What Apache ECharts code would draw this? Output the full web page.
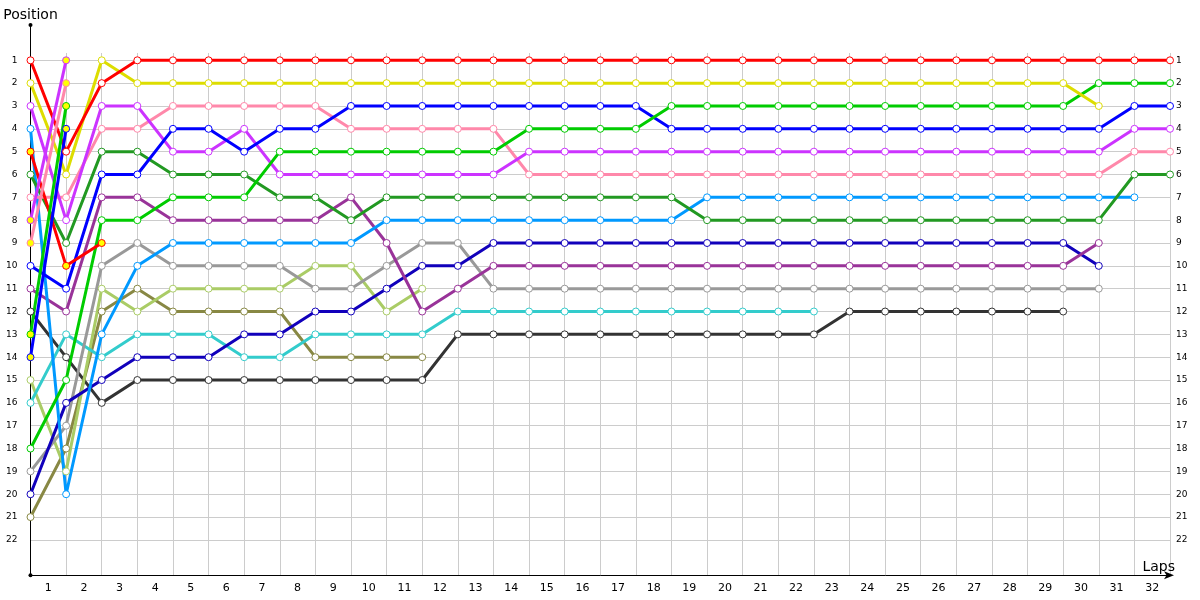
<!DOCTYPE html>
<html>
<head>
<meta charset="utf-8">
<title>Lap chart</title>
<script src="https://cdn.jsdelivr.net/npm/echarts@6/dist/echarts.min.js"></script>
<style>
  html, body { margin: 0; padding: 0; background: #fff; }
  #chart { width: 1200px; height: 600px; }
</style>
</head>
<body>
<div id="chart"></div>
<script>
const lapLabels = ['1', '2', '3', '4', '5', '6', '7', '8', '9', '10', '11', '12', '13', '14', '15', '16',
  '17', '18', '19', '20', '21', '22', '23', '24', '25', '26', '27', '28', '29', '30', '31', '32']
const positions = [1, 2, 3, 4, 5, 6, 7, 8, 9, 10, 11, 12, 13, 14, 15, 16, 17, 18, 19, 20, 21, 22]

// position per lap, index 0 = grid
const red = [1, 5, 2, 1, 1, 1, 1, 1, 1, 1,
  1, 1, 1, 1, 1, 1, 1, 1, 1, 1,
  1, 1, 1, 1, 1, 1, 1, 1, 1, 1,
  1, 1, 1]
const yellow = [2, 6, 1, 2, 2, 2, 2, 2, 2, 2,
  2, 2, 2, 2, 2, 2, 2, 2, 2, 2,
  2, 2, 2, 2, 2, 2, 2, 2, 2, 2,
  3]
const magenta = [3, 8, 3, 3, 5, 5, 4, 6, 6, 6,
  6, 6, 6, 6, 5, 5, 5, 5, 5, 5,
  5, 5, 5, 5, 5, 5, 5, 5, 5, 5,
  5, 4, 4]
const pink = [7, 7, 4, 4, 3, 3, 3, 3, 3, 4,
  4, 4, 4, 4, 6, 6, 6, 6, 6, 6,
  6, 6, 6, 6, 6, 6, 6, 6, 6, 6,
  6, 5, 5]
const blue = [10, 11, 6, 6, 4, 4, 5, 4, 4, 3,
  3, 3, 3, 3, 3, 3, 3, 3, 4, 4,
  4, 4, 4, 4, 4, 4, 4, 4, 4, 4,
  4, 3, 3]
const green = [18, 15, 8, 8, 7, 7, 7, 5, 5, 5,
  5, 5, 5, 5, 4, 4, 4, 4, 3, 3,
  3, 3, 3, 3, 3, 3, 3, 3, 3, 3,
  2, 2, 2]
const darkGreen = [6, 9, 5, 5, 6, 6, 6, 7, 7, 8,
  7, 7, 7, 7, 7, 7, 7, 7, 7, 8,
  8, 8, 8, 8, 8, 8, 8, 8, 8, 8,
  8, 6, 6]
const purple = [11, 12, 7, 7, 8, 8, 8, 8, 8, 7,
  9, 12, 11, 10, 10, 10, 10, 10, 10, 10,
  10, 10, 10, 10, 10, 10, 10, 10, 10, 10,
  9]
const lightBlue = [4, 20, 13, 10, 9, 9, 9, 9, 9, 9,
  8, 8, 8, 8, 8, 8, 8, 8, 8, 7,
  7, 7, 7, 7, 7, 7, 7, 7, 7, 7,
  7, 7]
const gray = [19, 17, 10, 9, 10, 10, 10, 10, 11, 11,
  10, 9, 9, 11, 11, 11, 11, 11, 11, 11,
  11, 11, 11, 11, 11, 11, 11, 11, 11, 11,
  11]
const yellowGreen = [15, 19, 11, 12, 11, 11, 11, 11, 10, 10,
  12, 11]
const olive = [21, 18, 12, 11, 12, 12, 12, 12, 14, 14,
  14, 14]
const cyan = [16, 13, 14, 13, 13, 13, 14, 14, 13, 13,
  13, 13, 12, 12, 12, 12, 12, 12, 12, 12,
  12, 12, 12]
const darkBlue = [20, 16, 15, 14, 14, 14, 13, 13, 12, 12,
  11, 10, 10, 9, 9, 9, 9, 9, 9, 9,
  9, 9, 9, 9, 9, 9, 9, 9, 9, 9,
  10]
const black = [12, 14, 16, 15, 15, 15, 15, 15, 15, 15,
  15, 15, 13, 13, 13, 13, 13, 13, 13, 13,
  13, 13, 13, 12, 12, 12, 12, 12, 12, 12]

// short runs drawn with yellow markers
const redPit = [5, 10, 9]
const magentaPit = [8, 1]
const pinkPit = [9, 2]
const greenPit = [13, 3]
const bluePit = [14, 4]

const drivers = [
  { data: black, color: '#333333' },
  { data: olive, color: '#888844' },
  { data: yellowGreen, color: '#aacc66' },
  { data: cyan, color: '#33cccc' },
  { data: gray, color: '#999999' },
  { data: darkBlue, color: '#1100bb' },
  { data: purple, color: '#993399' },
  { data: lightBlue, color: '#0099ff' },
  { data: darkGreen, color: '#229922' },
  { data: pink, color: '#ff88aa' },
  { data: magenta, color: '#cc33ff' },
  { data: blue, color: '#0000ff' },
  { data: green, color: '#00cc00' },
  { data: yellow, color: '#dddd00' },
  { data: red, color: '#ff0000' }
]
const pits = [
  { data: redPit, color: '#ff0000' },
  { data: magentaPit, color: '#cc33ff' },
  { data: pinkPit, color: '#ff88aa' },
  { data: greenPit, color: '#00cc00' },
  { data: bluePit, color: '#0000ff' }
]

const font = 'DejaVu Sans'

const makeSeries = (d, fill) => ({
  type: 'line',
  xAxisIndex: 0,
  yAxisIndex: 0,
  data: d.data.map((pos, lap) => [lap, pos]),
  symbol: 'circle',
  symbolSize: 7,
  showSymbol: true,
  showAllSymbol: true,
  silent: true,
  lineStyle: { color: d.color, width: 3 },
  itemStyle: { color: fill, borderColor: d.color, borderWidth: 1 }
})

const chart = echarts.init(document.getElementById('chart'))
chart.setOption({
  animation: false,
  grid: [
    { left: 30.5, right: 30, top: 53, bottom: 24.7 },
    { left: 30.5, width: 1, top: 25, bottom: 24.7 }
  ],
  xAxis: [
    {
      type: 'value',
      gridIndex: 0,
      min: 0,
      max: 32,
      interval: 1,
      position: 'bottom',
      name: 'Laps',
      nameLocation: 'end',
      nameGap: 5,
      nameTextStyle: { fontFamily: font, fontSize: 14, color: '#000', align: 'right', verticalAlign: 'bottom', padding: [0, 0, 1, 0] },
      axisLine: {
        onZero: false,
        lineStyle: { color: '#000', width: 1 },
        symbol: ['none', 'arrow'],
        symbolSize: [6, 10],
        symbolOffset: [0, 4]
      },
      axisTick: { show: false },
      splitLine: { show: true, lineStyle: { color: '#cccccc', width: 1 } },
      axisLabel: {
        customValues: lapLabels.map((_, i) => i + 0.5),
        formatter: (v) => lapLabels[Math.floor(v)],
        fontFamily: font,
        fontSize: 11,
        color: '#000',
        margin: 7
      }
    },
    { type: 'value', gridIndex: 1, show: false }
  ],
  yAxis: [
    {
      type: 'value',
      gridIndex: 0,
      inverse: true,
      min: 0.68,
      max: 23.55,
      position: 'left',
      axisLine: { show: false },
      axisTick: { show: false, customValues: positions },
      splitLine: { show: true, lineStyle: { color: '#cccccc', width: 1 } },
      axisLabel: { customValues: positions, fontFamily: font, fontSize: 9, color: '#000', margin: 13 }
    },
    {
      type: 'value',
      gridIndex: 0,
      inverse: true,
      min: 0.68,
      max: 23.55,
      position: 'right',
      axisLine: { show: false },
      axisTick: { show: false, customValues: positions },
      splitLine: { show: false },
      axisLabel: { customValues: positions, fontFamily: font, fontSize: 9, color: '#000', margin: 6 }
    },
    {
      type: 'value',
      gridIndex: 1,
      min: 0,
      max: 1,
      name: 'Position',
      nameLocation: 'end',
      nameGap: 3,
      nameTextStyle: { fontFamily: font, fontSize: 14, color: '#000' },
      axisLine: { show: true, lineStyle: { color: '#000', width: 1 }, symbol: ['circle', 'circle'], symbolSize: [4, 4] },
      axisTick: { show: false },
      axisLabel: { show: false },
      splitLine: { show: false }
    }
  ],
  series: [
    ...drivers.map((d) => makeSeries(d, '#ffffff')),
    ...pits.map((d) => makeSeries(d, '#ffff00'))
  ]
})
</script>
</body>
</html>
